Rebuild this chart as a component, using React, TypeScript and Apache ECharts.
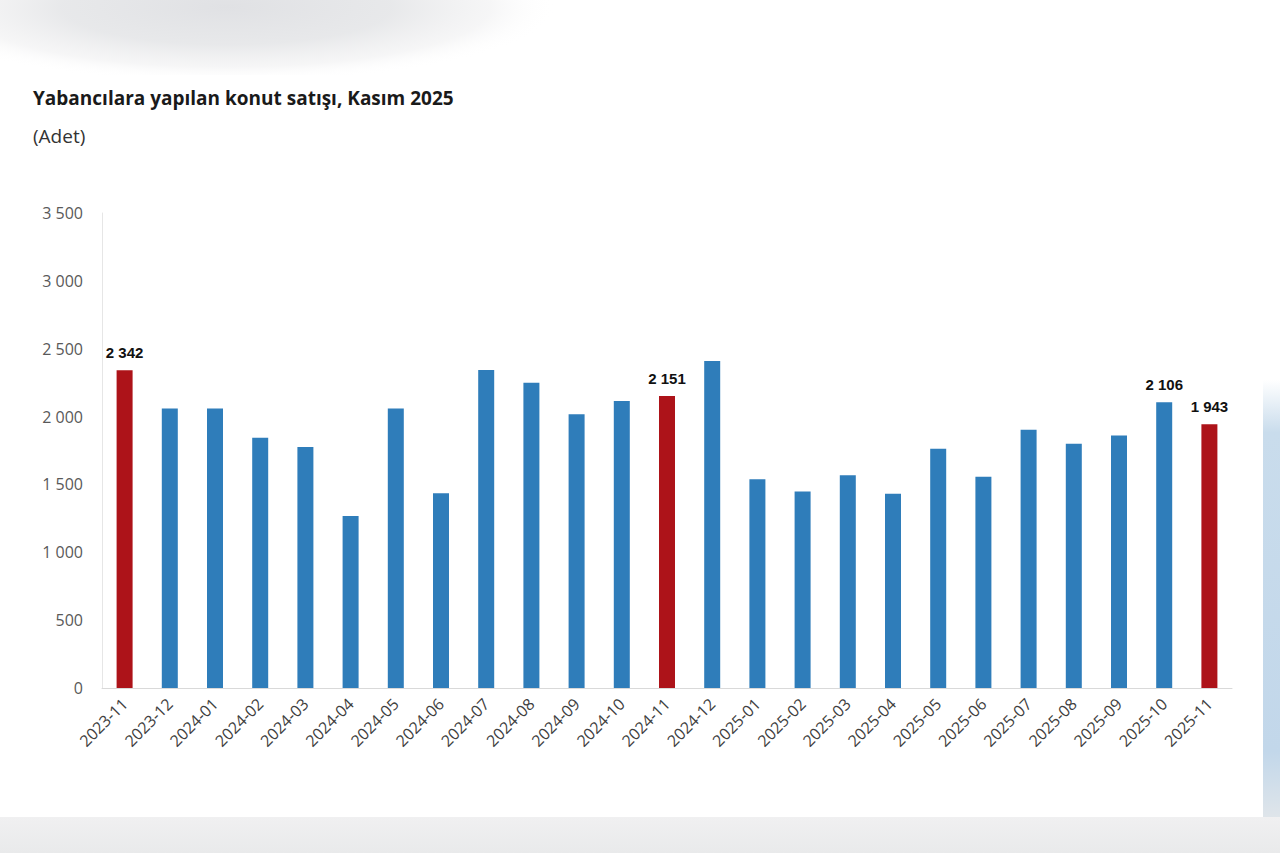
import React, { useEffect, useRef } from "react";
import * as echarts from "echarts";

const categories = [
  "2023-11", "2023-12", "2024-01", "2024-02", "2024-03", "2024-04", "2024-05",
  "2024-06", "2024-07", "2024-08", "2024-09", "2024-10", "2024-11", "2024-12",
  "2025-01", "2025-02", "2025-03", "2025-04", "2025-05", "2025-06", "2025-07",
  "2025-08", "2025-09", "2025-10", "2025-11",
];
const sales = [
  2342, 2060, 2060, 1844, 1775, 1268, 2060,
  1435, 2343, 2250, 2017, 2115, 2151, 2409,
  1538, 1447, 1567, 1432, 1763, 1557, 1903,
  1800, 1860, 2106, 1943,
];
const highlighted = ["2023-11", "2024-11", "2025-11"];
const labelled = ["2023-11", "2024-11", "2025-10", "2025-11"];
const yTicks = [0, 500, 1000, 1500, 2000, 2500, 3000, 3500];

const BLUE = "#2f7dba";
const RED = "#ad1319";

const fmt = (v: number) => String(v).replace(/\B(?=(\d{3})+(?!\d))/g, " ");

export default function App() {
  const ref = useRef<HTMLDivElement>(null);
  useEffect(() => {
    if (!ref.current) return;
    const chart = echarts.init(ref.current, undefined, { renderer: "svg" });
    const data = sales.map((v, i) => {
      const c = categories[i];
      const red = highlighted.includes(c);
      return {
        value: v,
        itemStyle: { color: red ? RED : BLUE },
        label: { show: labelled.includes(c) },
      };
    });
    chart.setOption({
      animation: false,
      backgroundColor: "#ffffff",
      graphic: [
        {
          type: "rect",
          silent: true,
          z: -10,
          shape: { x: -90, y: -50, width: 660, height: 150 },
          style: {
            fill: new echarts.graphic.RadialGradient(0.48, 0.38, 0.5, [
              { offset: 0, color: "rgba(224,225,228,1)" },
              { offset: 0.5, color: "rgba(229,230,232,0.9)" },
              { offset: 0.8, color: "rgba(240,240,241,0.6)" },
              { offset: 1, color: "rgba(255,255,255,0)" },
            ]),
          },
        },
        {
          type: "rect",
          silent: true,
          z: -9,
          shape: { x: 0, y: 75, width: 1263, height: 742 },
          style: { fill: "#ffffff" },
        },
        {
          type: "rect",
          silent: true,
          z: -10,
          shape: { x: 0, y: 817, width: 1280, height: 36 },
          style: {
            fill: new echarts.graphic.LinearGradient(0, 0, 0, 1, [
              { offset: 0, color: "#f0f0f1" },
              { offset: 1, color: "#e9eaeb" },
            ]),
          },
        },
        {
          type: "rect",
          silent: true,
          z: -10,
          shape: { x: 1263, y: 380, width: 17, height: 437 },
          style: {
            fill: new echarts.graphic.LinearGradient(0, 0, 0, 1, [
              { offset: 0, color: "#ffffff" },
              { offset: 0.12, color: "#c9dcec" },
              { offset: 0.85, color: "#c2d7ea" },
              { offset: 1, color: "#dfe5ea" },
            ]),
          },
        },
        {
          type: "text",
          left: 33,
          top: 88,
          style: {
            text: "Yabancılara yapılan konut satışı, Kasım 2025",
            font: "bold 19px 'Open Sans'",
            fill: "#1a1a1a",
          },
        },
        {
          type: "text",
          left: 33,
          top: 126,
          style: {
            text: "(Adet)",
            font: "19px 'Open Sans'",
            fill: "#333333",
          },
        },
      ],
      grid: { left: 102, right: 48, top: 213, bottom: 165, containLabel: false },
      xAxis: {
        type: "category",
        data: categories,
        axisLine: { show: true, lineStyle: { color: "#d9d9d9", width: 1 } },
        axisTick: { show: false },
        axisLabel: {
          rotate: 45,
          interval: 0,
          margin: 13,
          fontFamily: "Open Sans",
          fontSize: 16,
          color: "#404040",
        },
      },
      yAxis: {
        type: "value",
        min: yTicks[0],
        max: yTicks[yTicks.length - 1],
        interval: 500,
        axisLine: { show: true, lineStyle: { color: "#e6e6e6", width: 1 } },
        axisTick: { show: false },
        splitLine: { show: false },
        axisLabel: {
          margin: 19,
          fontFamily: "Open Sans",
          fontSize: 16,
          color: "#595959",
          formatter: (v: number) => fmt(v),
        },
      },
      series: [
        {
          type: "bar",
          data,
          barWidth: 16,
          label: {
            position: "top",
            distance: 10,
            fontFamily: "Liberation Sans",
            fontWeight: "bold",
            fontSize: 15,
            color: "#111111",
            formatter: (p: any) => fmt(p.value),
          },
        },
      ],
    });
    return () => chart.dispose();
  }, []);
  return (
    <div
      ref={ref}
      style={{ position: "absolute", left: 0, top: 0, width: 1280, height: 853 }}
    />
  );
}
